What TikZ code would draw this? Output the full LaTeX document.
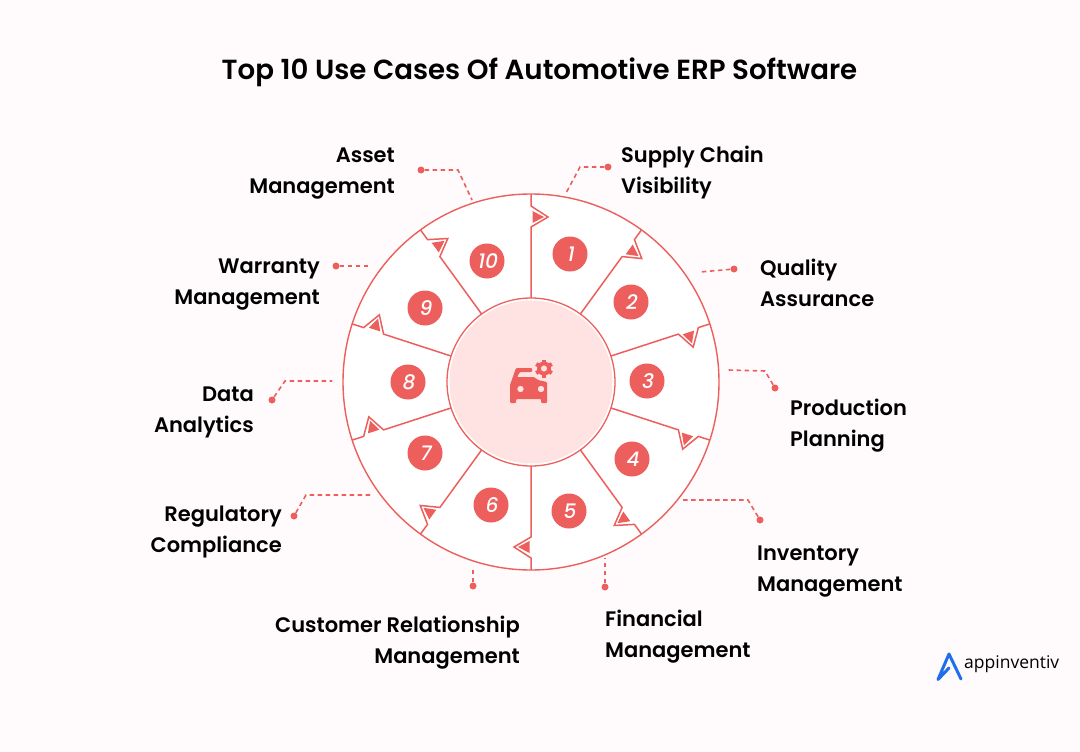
\documentclass[tikz,border=0pt]{standalone}
\usepackage{fontspec}
\setmainfont{Poppins}
\newfontfamily\labelfont{Poppins SemiBold}
\newfontfamily\numfont[FakeSlant=0.18]{Poppins Medium}
\newfontfamily\logofont{Open Sans}
\definecolor{wheelred}{HTML}{EC5F5C}
\definecolor{hubpink}{HTML}{FFE3E3}
\definecolor{pagepink}{HTML}{FFFBFC}
\definecolor{logoblue}{HTML}{1F6FEB}
\tikzset{
	usecase/.style={font=\labelfont\fontsize{21}{31}\selectfont, text=black, inner sep=0pt},
	numdot/.style={circle, fill=wheelred, minimum size=35pt, inner sep=0pt, text=white, font=\numfont\fontsize{20}{20}\selectfont},
	leaddot/.style={circle, fill=wheelred, minimum size=7pt, inner sep=0pt},
	leadline/.style={wheelred, line width=1.6pt, dash pattern=on 4.5pt off 3.5pt},
}

\begin{document}
\begin{tikzpicture}[x=1pt,y=-1pt]
	\useasboundingbox (0,0) rectangle (1080,752);
	\fill[pagepink] (0,0) rectangle (1080,752);

	\node[font=\labelfont\fontsize{27.65}{34}\selectfont, text=black, inner sep=0pt] (title) at (539.5,72) {Top 10 Use Cases Of Automotive ERP Software};

	% wheel
	\coordinate (hub) at (531,382);
	\draw[wheelred, line width=1.4pt, fill=white] (hub) circle[radius=188pt];
	\foreach \a in {0,36,...,324}{
		\begin{scope}[shift={(hub)}, rotate=-\a]
			\draw[wheelred, line width=1.5pt, line join=miter] (0,-188) -- (0,-176) -- (17,-165) -- (0,-155) -- (0,-84);
			\fill[wheelred] (1.5,-171) -- (13,-165) -- (1.5,-159) -- cycle;
		\end{scope}
	}
	\draw[wheelred, line width=1.3pt, fill=white] (hub) circle[radius=84pt];
	\fill[hubpink] (hub) circle[radius=81.5pt];

	% numbers
	\foreach \n/\p in {1/{570,254},2/{631,302},3/{647,381},4/{632,459},5/{569,511},6/{491,505},7/{425,453},8/{408,382},9/{425,308},10/{487,261}}{
		\node[numdot] (num\n) at (\p) {\n};
	}

	% leaders
	\foreach \n/\p/\q/\r in {1/{608,167}/{580,167}/{566,193},3/{775,388}/{765,371}/{728,370},4/{760,520}/{748,500}/{683,500},7/{294,516}/{306,495}/{373,495},8/{272,400}/{285,381}/{332,381},10/{421,170}/{458,170}/{472,200}}{
		\node[leaddot] (dot\n) at (\p) {};
		\coordinate (elbow\n) at (\q);
		\coordinate (end\n) at (\r);
		\draw[leadline] (dot\n) -- (elbow\n) -- (end\n);
	}
	\foreach \n/\p/\r in {2/{734,269}/{700,272},5/{605,587}/{605,558},6/{473,586}/{473,568},9/{336,266}/{369,266}}{
		\node[leaddot] (dot\n) at (\p) {};
		\coordinate (end\n) at (\r);
		\draw[leadline] (dot\n) -- (end\n);
	}

	% labels
	\foreach \n/\p/\t in {1/{621,173}/{Supply Chain\\Visibility},2/{760,283}/{Quality\\Assurance},3/{790,426}/{Production\\Planning},4/{757,572}/{Inventory\\Management},5/{605,637}/{Financial\\Management}}{
		\node[usecase, anchor=west, align=left] (case\n) at (\p) {\t};
	}
	\foreach \n/\p/\t in {6/{520,643}/{Customer Relationship\\Management},7/{282,532}/{Regulatory\\Compliance},8/{254,412}/{Data\\Analytics},9/{320,285}/{Warranty\\Management},10/{395,174}/{Asset\\Management}}{
		\node[usecase, anchor=east, align=right] (case\n) at (\p) {\t};
	}

	% car
	\fill[wheelred, even odd rule, rounded corners=1pt] (510,403) -- (510,385) -- (516,368) -- (532,368) -- (532,372) -- (520,372) -- (517,377) -- (534,377) -- (538,380) -- (547,382) -- (547,403) -- (541,403) -- (541,399) -- (516,399) -- (516,403) -- cycle
		(520.5,389) circle[radius=3.3pt] (541,389) circle[radius=3.3pt];
	\fill[wheelred, even odd rule] (544,368.5) circle[radius=7pt] (544,368.5) circle[radius=3.2pt];
	\foreach \a in {0,60,...,300}{
		\fill[wheelred, rotate around={\a:(544,368.5)}] (542,362.5) rectangle (546,359.5);
	}

	% logo
	\draw[logoblue, line width=3pt, line cap=round, line join=round] (949,668) -- (938,679.5) -- (949,654) -- (961,679);
	\node[font=\logofont\fontsize{17.5}{19}\selectfont, text=black, inner sep=0pt, anchor=west] (logo) at (964,664) {appinventiv};
\end{tikzpicture}
\end{document}
